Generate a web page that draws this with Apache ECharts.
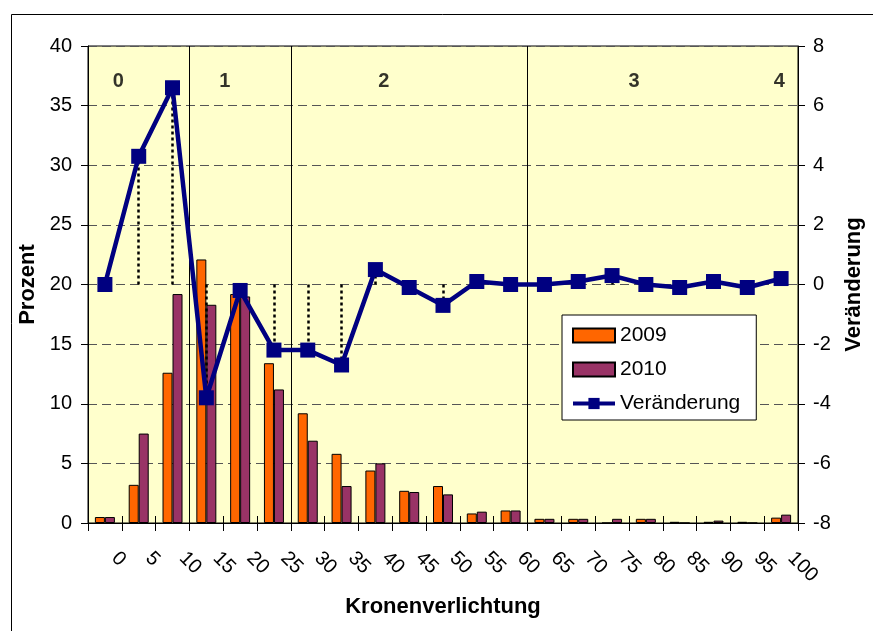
<!DOCTYPE html>
<html>
<head>
<meta charset="utf-8">
<script src="https://cdn.jsdelivr.net/npm/echarts@6/dist/echarts.min.js"></script>
<style>
html,body{margin:0;padding:0;background:#fff;}
#chart{width:873px;height:631px;}
</style>
</head>
<body>
<div id="chart"></div>
<script>
const categories = ['0','5','10','15','20','25','30','35','40','45','50','55','60','65','70','75','80','85','90','95','100'];
const values2009 = [0.5,3.2,12.6,22.1,19.2,13.4,9.2,5.8,4.4,2.7,3.1,0.8,1.05,0.35,0.35,0,0.35,0.1,0.1,0.1,0.45];
const values2010 = [0.5,7.5,19.2,18.3,19.0,11.2,6.9,3.1,5.0,2.6,2.4,0.95,1.05,0.35,0.35,0.35,0.35,0,0.2,0,0.7];
const changeValues = [0,4.3,6.6,-3.8,-0.2,-2.2,-2.2,-2.7,0.5,-0.1,-0.7,0.1,0,0,0.1,0.3,0,-0.1,0.1,-0.1,0.2];
const zoneLabels = ['0','1','2','3','4'];
const zoneLabelPos = [0.9,4.05,8.75,16.15,20.45];
const zoneLabelY = 37;
const zoneBoundaries = [3,6,13];
const leftTicks = {min:0,max:40,interval:5};
const rightTicks = {min:-8,max:8,interval:2};

const FONT = 'Liberation Sans, Arial, sans-serif';
const chart = echarts.init(document.getElementById('chart'));

const dropLines = [];
changeValues.forEach((v,i)=>{
  if (v !== 0) dropLines.push([{coord:[categories[i],0]},{coord:[categories[i],v]}]);
});

chart.setOption({
  animation:false,
  textStyle:{fontFamily:FONT,color:'#000'},
  graphic:[{type:'rect',left:9,top:12,shape:{x:0,y:0,width:900,height:700},style:{fill:'none',stroke:'#000',lineWidth:1},silent:true,z:-10}],
  grid:{left:88,right:73,top:46,bottom:108,show:true,backgroundColor:'#FFFFCC',borderColor:'#000',borderWidth:1},
  legend:{
    orient:'vertical',left:562,top:315,
    backgroundColor:'#fff',borderColor:'#000',borderWidth:1,
    padding:[10,16,6,9],itemWidth:42,itemHeight:14,itemGap:13,
    textStyle:{fontFamily:FONT,fontSize:21,color:'#000'},
    data:[{name:'2009',icon:'rect'},{name:'2010',icon:'rect'},
          {name:'Veränderung',lineStyle:{width:4,color:'#000080'},itemStyle:{color:'#000080'}}]
  },
  xAxis:[
    {type:'category',data:categories,position:'bottom',
     axisLine:{show:true,onZero:false,lineStyle:{color:'#000'}},
     axisTick:{show:true,inside:true,length:7,lineStyle:{color:'#000'}},
     axisLabel:{show:false},splitLine:{show:false}},
    {type:'value',min:0,max:categories.length,interval:1,position:'bottom',
     name:'Kronenverlichtung',nameLocation:'middle',nameGap:73,
     nameTextStyle:{fontFamily:FONT,fontSize:22,fontWeight:'bold',color:'#000'},
     axisLine:{show:true,onZero:false,lineStyle:{color:'#000'}},
     axisTick:{show:true,length:8,lineStyle:{color:'#000'}},
     axisLabel:{formatter:v=>categories[v-1]!==undefined?categories[v-1]:'',rotate:-45,align:'left',verticalAlign:'top',margin:25,
       fontFamily:FONT,fontSize:20,color:'#000'},
     splitLine:{show:false}}
  ],
  yAxis:[
    {type:'value',min:leftTicks.min,max:leftTicks.max,interval:leftTicks.interval,position:'left',
     name:'Prozent',nameLocation:'middle',nameGap:45,nameRotate:90,
     nameTextStyle:{fontFamily:FONT,fontSize:22,fontWeight:'bold',color:'#000'},
     axisLine:{show:true,onZero:false,lineStyle:{color:'#000'}},
     axisTick:{show:true,length:7,lineStyle:{color:'#000'}},
     axisLabel:{margin:16,fontFamily:FONT,fontSize:20,color:'#000'},
     splitLine:{show:true,lineStyle:{color:'#555',type:[9,5],width:1}}},
    {type:'value',min:rightTicks.min,max:rightTicks.max,interval:rightTicks.interval,position:'right',
     name:'Veränderung',nameLocation:'middle',nameGap:45,nameRotate:90,
     nameTextStyle:{fontFamily:FONT,fontSize:22,fontWeight:'bold',color:'#000'},
     axisLine:{show:true,onZero:false,lineStyle:{color:'#000'}},
     axisTick:{show:true,length:7,lineStyle:{color:'#000'}},
     axisLabel:{margin:15,fontFamily:FONT,fontSize:20,color:'#000'},
     splitLine:{show:false}}
  ],
  series:[
    {name:'2009',type:'bar',xAxisIndex:0,yAxisIndex:0,data:values2009,barWidth:10,barGap:'0%',
     itemStyle:{color:'#FF6600',borderColor:'#000',borderWidth:1},z:2},
    {name:'2010',type:'bar',xAxisIndex:0,yAxisIndex:0,data:values2010,barWidth:10,barGap:'0%',
     itemStyle:{color:'#993366',borderColor:'#000',borderWidth:1},z:2},
    {name:'zones',type:'scatter',xAxisIndex:1,yAxisIndex:0,symbolSize:0,
     data:zoneLabels.map((t,i)=>({value:[zoneLabelPos[i],zoneLabelY],name:t})),
     label:{show:true,position:'inside',formatter:p=>p.name,fontFamily:FONT,fontSize:20,fontWeight:'bold',color:'#000'},
     markLine:{silent:true,symbol:'none',label:{show:false},
       lineStyle:{color:'#000',type:'solid',width:1},
       data:zoneBoundaries.map(b=>({xAxis:b}))},
     z:3},
    {name:'Veränderung',type:'line',xAxisIndex:0,yAxisIndex:1,data:changeValues,
     symbol:'rect',symbolSize:15,color:'#000080',
     itemStyle:{color:'#000080'},lineStyle:{color:'#000080',width:4.5},
     markLine:{silent:true,symbol:'none',label:{show:false},
       lineStyle:{color:'#000',type:[3,3],width:2.5,opacity:1},data:dropLines},
     z:5}
  ]
});
</script>
</body>
</html>
